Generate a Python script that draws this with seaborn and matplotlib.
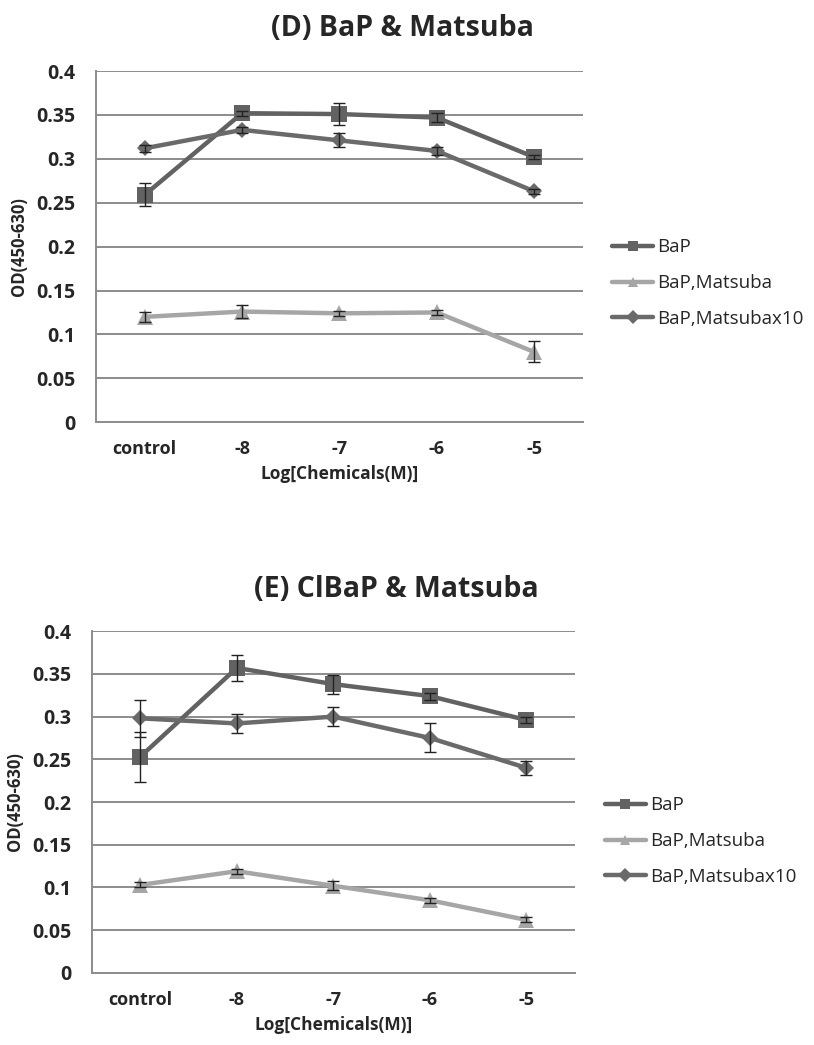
import numpy as np
import pandas as pd
import seaborn as sns
import matplotlib.pyplot as plt
from matplotlib.ticker import FixedLocator, MultipleLocator

# Valores
categorias = ["control", "-8", "-7", "-6", "-5"]
series = ["BaP", "BaP,Matsuba", "BaP,Matsubax10"]

# (D) BaP & Matsuba
d_bap = [0.259, 0.352, 0.351, 0.347, 0.302]
d_bap_err = [0.013, 0.003, 0.013, 0.005, 0.002]
d_mat = [0.120, 0.126, 0.124, 0.125, 0.080]
d_mat_err = [0.006, 0.007, 0.003, 0.003, 0.012]
d_mat10 = [0.312, 0.333, 0.321, 0.309, 0.263]
d_mat10_err = [0.004, 0.003, 0.008, 0.005, 0.003]

# (E) ClBaP & Matsuba
e_bap = [0.253, 0.357, 0.338, 0.324, 0.296]
e_bap_err = [0.029, 0.015, 0.011, 0.004, 0.003]
e_mat = [0.103, 0.119, 0.102, 0.085, 0.062]
e_mat_err = [0.003, 0.003, 0.005, 0.003, 0.003]
e_mat10 = [0.298, 0.292, 0.300, 0.275, 0.240]
e_mat10_err = [0.022, 0.011, 0.011, 0.017, 0.008]

titulos = ["(D) BaP & Matsuba", "(E) ClBaP & Matsuba"]

colores = {"BaP": "#626262", "BaP,Matsuba": "#a6a6a6", "BaP,Matsubax10": "#6a6a6a"}
marcadores = {"BaP": "s", "BaP,Matsuba": "^", "BaP,Matsubax10": "D"}
tam_marcador = {"BaP": 11, "BaP,Matsuba": 11, "BaP,Matsubax10": 8}

sns.set_style("white")
plt.rcParams["font.family"] = ["Open Sans", "DejaVu Sans"]


def armar_tabla(valores, errores):
    filas = []
    for s, v, e in zip(series, valores, errores):
        for i, cat in enumerate(categorias):
            filas.append({"serie": s, "pos": i, "cat": cat, "od": v[i], "err": e[i]})
    return pd.DataFrame(filas)


def dibujar(ax, df, titulo, title_y):
    for s in series:
        sub = df[df["serie"] == s]
        sns.lineplot(data=sub, x="pos", y="od", ax=ax, color=colores[s],
                     marker=marcadores[s], markersize=tam_marcador[s],
                     markeredgewidth=0, linewidth=3.2, label=s, legend=False)
        ax.errorbar(sub["pos"], sub["od"], yerr=sub["err"], fmt="none",
                    ecolor="#222222", elinewidth=1.0, capsize=4, capthick=1.0,
                    zorder=3)

    ax.set_xlim(-0.5, 4.5)
    ax.set_ylim(0, 0.4)
    ax.yaxis.set_major_locator(MultipleLocator(0.05))
    ax.set_yticklabels(["0" if abs(t) < 1e-9 else f"{t:g}" for t in ax.get_yticks()])
    ax.grid(axis="y", color="#8c8c8c", linewidth=1.4)
    ax.grid(axis="x", visible=False)
    ax.set_axisbelow(True)

    ax.set_xticks(range(len(categorias)))
    ax.set_xticklabels(categorias, fontsize=13, fontweight="bold")
    ax.xaxis.set_minor_locator(FixedLocator(np.arange(-0.5, 5, 1.0)))
    ax.tick_params(axis="x", which="major", length=0, pad=13)
    ax.tick_params(axis="x", which="minor", length=6, width=1.4, color="#8c8c8c")
    ax.tick_params(axis="y", length=0, pad=15, labelsize=14)
    for lab in ax.get_yticklabels():
        lab.set_fontweight("bold")

    for lado in ["top", "right"]:
        ax.spines[lado].set_visible(False)
    for lado in ["left", "bottom"]:
        ax.spines[lado].set_color("#8c8c8c")
        ax.spines[lado].set_linewidth(1.4)

    ax.set_xlabel("Log[Chemicals(M)]", fontsize=12.5, fontweight="bold", labelpad=5)
    ax.set_ylabel("OD(450-630)", fontsize=12, fontweight="bold", labelpad=6)
    ax.set_title(titulo, fontsize=20.5, fontweight="bold", y=title_y, x=0.63)


fig = plt.figure(figsize=(8.14, 10.45), dpi=100)
ax1 = fig.add_axes([0.118, 0.596, 0.598, 0.336])
ax2 = fig.add_axes([0.113, 0.069, 0.593, 0.327])

tabla_d = armar_tabla([d_bap, d_mat, d_mat10], [d_bap_err, d_mat_err, d_mat10_err])
tabla_e = armar_tabla([e_bap, e_mat, e_mat10], [e_bap_err, e_mat_err, e_mat10_err])

dibujar(ax1, tabla_d, titulos[0], 1.075)
dibujar(ax2, tabla_e, titulos[1], 1.075)

# Leyendas a la derecha, como en el original
for ax, x_leg, y_leg in [(ax1, 0.752, 0.729), (ax2, 0.743, 0.195)]:
    handles, labels = ax.get_legend_handles_labels()
    leg = fig.legend(handles, labels, loc="center left", bbox_to_anchor=(x_leg, y_leg),
                     frameon=False, handlelength=2.2, handletextpad=0.2,
                     labelspacing=0.95, borderpad=0, borderaxespad=0,
                     prop={"family": ["Open Sans", "DejaVu Sans"], "size": 13.5})
    for linea in leg.get_lines():
        linea.set_markersize(7)

fig.savefig("out.png", dpi=100)
